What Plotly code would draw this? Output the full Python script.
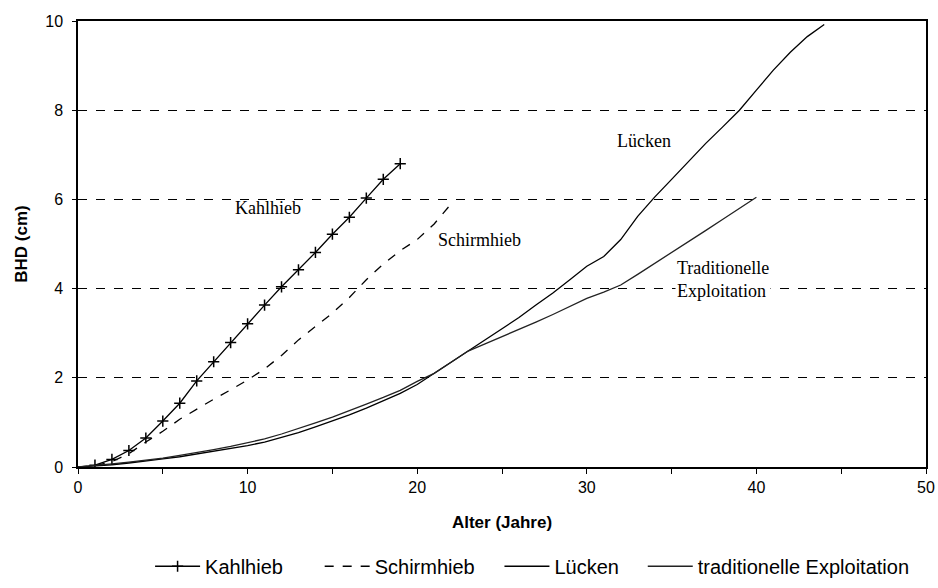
import plotly.graph_objects as go

# Alter (Jahre) und BHD (cm) je Verfahren
kahl_x = list(range(1, 20))
kahl_y = [0.04, 0.17, 0.37, 0.65, 1.03, 1.43, 1.93, 2.36, 2.79, 3.21,
          3.63, 4.04, 4.42, 4.81, 5.22, 5.6, 6.03, 6.45, 6.8]

schirm_x = list(range(0, 23))
schirm_y = [0.0, 0.03, 0.12, 0.3, 0.56, 0.8, 1.07, 1.3, 1.52, 1.73,
            1.95, 2.2, 2.5, 2.85, 3.15, 3.45, 3.8, 4.2, 4.55, 4.85,
            5.1, 5.45, 5.9]

luecken_x = list(range(0, 45))
luecken_y = [0.0, 0.02, 0.05, 0.09, 0.13, 0.18, 0.23, 0.29, 0.35, 0.41,
             0.48, 0.56, 0.66, 0.77, 0.9, 1.03, 1.17, 1.32, 1.48, 1.65,
             1.85, 2.1, 2.33, 2.58, 2.85, 3.1, 3.35, 3.63, 3.9, 4.2,
             4.5, 4.72, 5.1, 5.62, 6.05, 6.45, 6.85, 7.25, 7.62, 8.0,
             8.45, 8.9, 9.3, 9.65, 9.92]

trad_x = list(range(0, 41))
trad_y = [0.0, 0.03, 0.07, 0.11, 0.15, 0.2, 0.26, 0.32, 0.39, 0.46,
          0.54, 0.63, 0.74, 0.86, 0.99, 1.12, 1.26, 1.41, 1.56, 1.72,
          1.92, 2.1, 2.35, 2.6, 2.76, 2.92, 3.08, 3.25, 3.42, 3.6,
          3.78, 3.92, 4.08, 4.32, 4.56, 4.8, 5.05, 5.3, 5.55, 5.8, 6.05]

serif = "Liberation Serif"
sans = "Liberation Sans"

fig = go.Figure()

fig.add_trace(go.Scatter(
    x=kahl_x, y=kahl_y, name="Kahlhieb", mode="lines+markers", legend="legend",
    line=dict(color="black", width=1.3),
    marker=dict(symbol="cross-thin", size=8, line=dict(color="black", width=1.5)),
))
fig.add_trace(go.Scatter(
    x=schirm_x, y=schirm_y, name="Schirmhieb", mode="lines", legend="legend2",
    line=dict(color="black", width=1.3, dash="dash"),
))
fig.add_trace(go.Scatter(
    x=luecken_x, y=luecken_y, name="Lücken", mode="lines", legend="legend3",
    line=dict(color="black", width=1.3),
))
fig.add_trace(go.Scatter(
    x=trad_x, y=trad_y, name="traditionelle Exploitation", mode="lines",
    legend="legend4",
    line=dict(color="#222222", width=1.3),
))

# Beschriftungen im Diagramm
labels = [
    (11.2, 5.8, "Kahlhieb", "center"),
    (23.7, 5.1, "Schirmhieb", "center"),
    (33.4, 7.3, "Lücken", "center"),
    (35.2, 4.2, "Traditionelle<br>Exploitation", "left"),
]
for lx, ly, txt, align in labels:
    fig.add_annotation(
        x=lx, y=ly, text=txt, showarrow=False, align=align,
        xanchor="left" if align == "left" else "center",
        font=dict(family=serif, size=18, color="black"),
        bgcolor="white" if align == "left" else "rgba(0,0,0,0)",
    )


def leg(x):
    return dict(
        orientation="h", x=x, xanchor="left",
        y=0.037, yref="container", yanchor="middle",
        font=dict(family=sans, size=20), itemwidth=45,
        bgcolor="rgba(0,0,0,0)",
    )


fig.update_layout(
    width=938, height=588,
    margin=dict(l=78, r=12, t=21, b=121, autoexpand=False),
    paper_bgcolor="white",
    plot_bgcolor="white",
    font=dict(family=sans, size=16, color="black"),
    showlegend=True,
    legend=leg(0.085),
    legend2=leg(0.285),
    legend3=leg(0.497),
    legend4=leg(0.666),
    xaxis=dict(
        range=[0, 50], tickvals=[0, 10, 20, 30, 40, 50],
        showgrid=False, zeroline=False, automargin=False,
        showline=True, linecolor="black", linewidth=1.5, mirror=True,
        ticks="outside", ticklen=5, tickcolor="black",
        minor=dict(dtick=5, ticks="outside", ticklen=5, tickcolor="black"),
        title=dict(text="<b>Alter (Jahre)</b>", font=dict(family=sans, size=17), standoff=21),
    ),
    yaxis=dict(
        range=[0, 10], tickvals=[0, 2, 4, 6, 8, 10],
        showgrid=True, gridcolor="black", griddash="dash", gridwidth=1.2,
        zeroline=False, automargin=False,
        showline=True, linecolor="black", linewidth=1.5, mirror=True,
        ticks="outside", ticklen=4, tickcolor="black", ticklabelstandoff=6,
        title=dict(text="<b>BHD (cm)</b>", font=dict(family=sans, size=17), standoff=13),
    ),
)

# Seitenrand entfernen, damit die Abbildung genau ins Fenster passt
fig.write_html(
    "out.html",
    config={"displayModeBar": False},
    post_script="document.body.style.margin='0';document.body.style.overflow='hidden';",
)
